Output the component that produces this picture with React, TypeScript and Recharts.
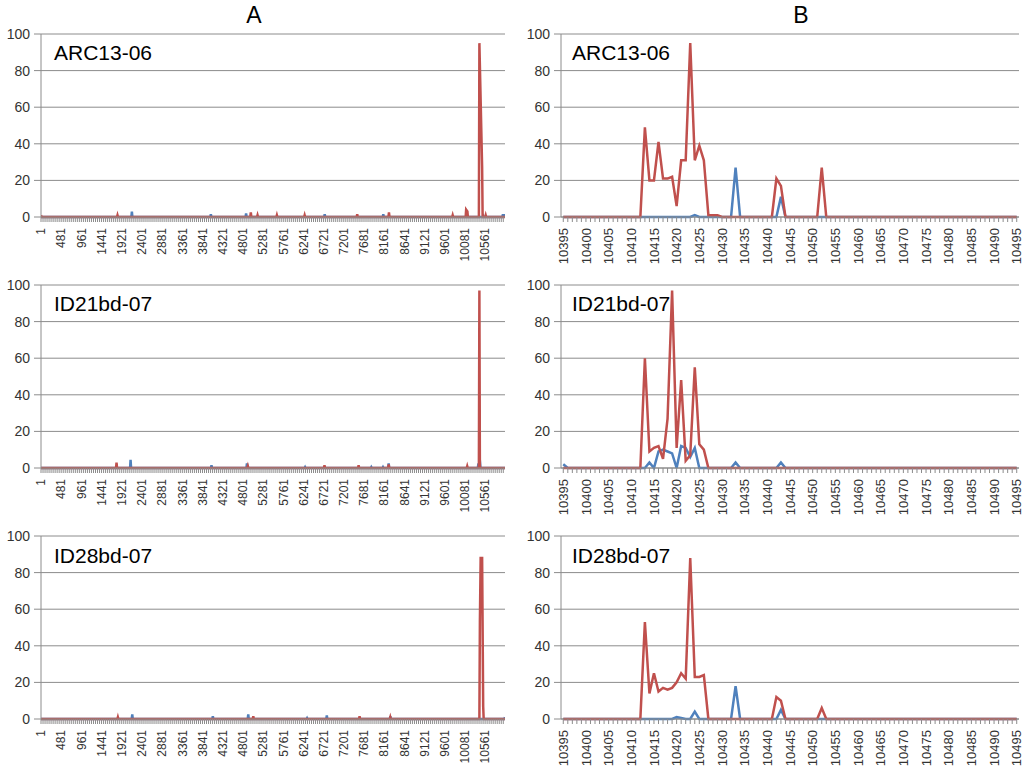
import React from "react"
import { LineChart, Line, XAxis, YAxis, CartesianGrid } from "recharts"

const FONT = '"Liberation Sans", Arial, sans-serif'
const RED = "#C0504D"
const BLUE = "#4F81BD"
const GRID = "#8c8c8c"
const TEXT = "#333333"

type Pt = [number, number]

// panel names, one per row
const SAMPLES = ["ARC13-06", "ID21bd-07", "ID28bd-07"]

// A: whole sequence, 1 .. A_END
const A_END = 11034
const A_LABELS = [
  1, 481, 961, 1441, 1921, 2401, 2881, 3361, 3841, 4321, 4801, 5281, 5761, 6241, 6721, 7201,
  7681, 8161, 8641, 9121, 9601, 10081, 10561,
]
const A_TICK_STEP = 48

// nonzero peaks [position, value]; everything else is 0
const A_RED: Pt[][] = [
  [[1, 1], [1820, 1], [4990, 2.5], [5150, 1], [5610, 1], [6270, 1], [7520, 1.5], [8275, 2.5],
    [9790, 1], [10110, 4], [10140, 3], [10425, 95], [10490, 27], [10575, 1]],
  [[1797, 3], [4920, 1], [6742, 1.5], [7553, 1.5], [8268, 2], [10136, 1], [10425, 97]],
  [[1829, 1], [5049, 1.5], [7576, 1.5], [8307, 1], [10437, 53], [10455, 88], [10490, 88],
    [10515, 7]],
]
const A_BLUE: Pt[][] = [
  [[2162, 3], [4040, 1.5], [4878, 2], [6747, 1.5], [8140, 1.5], [10520, 0.5], [10980, 1],
    [11034, 1]],
  [[2131, 4.5], [4055, 1.5], [4898, 2.5], [6281, 0.5], [7855, 0.5], [8133, 0.5], [8268, 2.5],
    [10400, 2], [10440, 3]],
  [[2171, 2.5], [4087, 1.5], [4929, 2.5], [6328, 0.5], [6797, 2], [8307, 1.5], [11034, 1]],
]

// B: zoom on 10395 .. 10495
const B_START = 10395
const B_END = 10495
const B_LABELS = [
  10395, 10400, 10405, 10410, 10415, 10420, 10425, 10430, 10435, 10440, 10445, 10450, 10455,
  10460, 10465, 10470, 10475, 10480, 10485, 10490, 10495,
]
const B_RED: Pt[][] = [
  [[10413, 49], [10414, 20], [10415, 20], [10416, 41], [10417, 21], [10418, 21], [10419, 22],
    [10420, 6], [10421, 31], [10422, 31], [10423, 95], [10424, 31], [10425, 39], [10426, 31],
    [10427, 1], [10428, 1], [10429, 1], [10442, 21], [10443, 17], [10452, 27]],
  [[10413, 60], [10414, 9], [10415, 11], [10416, 12], [10417, 5], [10418, 27], [10419, 97],
    [10420, 11], [10421, 48], [10422, 4], [10423, 7], [10424, 55], [10425, 13], [10426, 10]],
  [[10413, 53], [10414, 14], [10415, 25], [10416, 15], [10417, 17], [10418, 16], [10419, 17],
    [10420, 20], [10421, 25], [10422, 22], [10423, 88], [10424, 23], [10425, 23], [10426, 24],
    [10442, 12], [10443, 10], [10452, 6]],
]
const B_BLUE: Pt[][] = [
  [[10424, 1], [10433, 27], [10443, 11]],
  [[10395, 2], [10414, 3], [10416, 9], [10417, 10], [10418, 9], [10419, 8], [10421, 12],
    [10422, 11], [10423, 6], [10424, 11], [10433, 3], [10443, 3]],
  [[10420, 1], [10421, 0.5], [10424, 4], [10433, 18], [10443, 5]],
]

const Y_TICKS = [0, 20, 40, 60, 80, 100]

type Row = { pos: number; red?: number; blue?: number }

const SPIKE_HALF = 12
const JOIN_GAP = 80

// peaks -> polyline with zero baseline around isolated spikes
function spikeLine(peaks: Pt[], end: number): Pt[] {
  const pts: Pt[] = []
  peaks.forEach(([p, v], i) => {
    const prev = peaks[i - 1]
    const next = peaks[i + 1]
    if ((!prev || p - prev[0] > JOIN_GAP) && p - SPIKE_HALF > 1) pts.push([p - SPIKE_HALF, 0])
    pts.push([p, v])
    if ((!next || next[0] - p > JOIN_GAP) && p + SPIKE_HALF < end) pts.push([p + SPIKE_HALF, 0])
  })
  if (!pts.length || pts[0][0] > 1) pts.unshift([1, 0])
  if (pts[pts.length - 1][0] < end) pts.push([end, 0])
  return pts
}

function buildA(red: Pt[], blue: Pt[]): Row[] {
  const map = new Map<number, Row>()
  const put = (pts: Pt[], key: "red" | "blue") =>
    pts.forEach(([p, v]) => {
      const row = map.get(p) ?? { pos: p }
      row[key] = v
      map.set(p, row)
    })
  put(spikeLine(blue, A_END), "blue")
  put(spikeLine(red, A_END), "red")
  return [...map.values()].sort((a, b) => a.pos - b.pos)
}

function buildB(red: Pt[], blue: Pt[]): Row[] {
  const r = new Map(red)
  const b = new Map(blue)
  const rows: Row[] = []
  for (let p = B_START; p <= B_END; p++) {
    rows.push({ pos: p, red: r.get(p) ?? 0, blue: b.get(p) ?? 0 })
  }
  return rows
}

const A_TICKS: number[] = []
for (let t = 1; t <= A_END; t += A_TICK_STEP) A_TICKS.push(t)
const B_TICKS: number[] = []
for (let t = B_START; t <= B_END; t++) B_TICKS.push(t)

function RotatedTick(props: any) {
  const { x, y, payload, labels, fontSize } = props
  if (!labels.includes(payload.value)) return <g />
  return (
    <text
      x={x}
      y={y}
      dy="0.36em"
      transform={`rotate(-90, ${x}, ${y})`}
      textAnchor="end"
      fill={TEXT}
      fontSize={fontSize}
      fontFamily={FONT}
    >
      {payload.value}
    </text>
  )
}

const PLOT_TOPS = [33.5, 284.7, 536.2]
const TOP_PAD = 8
const PLOT_H = 183
const X_AXIS_H = 52

type PanelProps = {
  data: Row[]
  left: number
  top: number
  width: number
  rightPad: number
  domain: [number, number]
  ticks: number[]
  labels: number[]
  labelSize: number
}

function Panel({ data, left, top, width, rightPad, domain, ticks, labels, labelSize }: PanelProps) {
  return (
    <div style={{ position: "absolute", left, top: top - TOP_PAD }}>
      <LineChart
        width={width}
        height={TOP_PAD + PLOT_H + X_AXIS_H}
        data={data}
        margin={{ top: TOP_PAD, right: rightPad, bottom: 0, left: 0 }}
      >
        <CartesianGrid vertical={false} stroke={GRID} strokeWidth={1} />
        <XAxis
          dataKey="pos"
          type="number"
          domain={domain}
          ticks={ticks}
          interval={0}
          height={X_AXIS_H}
          tickSize={5}
          tickMargin={6}
          stroke={GRID}
          allowDataOverflow
          tick={(p: any) => <RotatedTick {...p} labels={labels} fontSize={labelSize} />}
        />
        <YAxis
          domain={[0, 100]}
          ticks={Y_TICKS}
          width={41}
          tickSize={7}
          tickMargin={4}
          stroke={GRID}
          tick={{ fill: TEXT, fontSize: 14, fontFamily: FONT }}
        />
        <Line
          dataKey="blue"
          stroke={BLUE}
          strokeWidth={2.5}
          dot={false}
          connectNulls
          isAnimationActive={false}
        />
        <Line
          dataKey="red"
          stroke={RED}
          strokeWidth={2.5}
          dot={false}
          connectNulls
          isAnimationActive={false}
        />
      </LineChart>
    </div>
  )
}

export default function App() {
  return (
    <div
      style={{
        position: "absolute",
        left: 0,
        top: 0,
        width: 1024,
        height: 772,
        background: "#fff",
        fontFamily: FONT,
        overflow: "hidden",
      }}
    >
      {SAMPLES.map((name, i) => (
        <React.Fragment key={name}>
          <Panel
            data={buildA(A_RED[i], A_BLUE[i])}
            left={0}
            top={PLOT_TOPS[i]}
            width={520}
            rightPad={15}
            domain={[1, A_END]}
            ticks={A_TICKS}
            labels={A_LABELS}
            labelSize={12}
          />
          <Panel
            data={buildB(B_RED[i], B_BLUE[i])}
            left={520}
            top={PLOT_TOPS[i]}
            width={504}
            rightPad={5}
            domain={[B_START - 0.5, B_END + 0.5]}
            ticks={B_TICKS}
            labels={B_LABELS}
            labelSize={13}
          />
        </React.Fragment>
      ))}
      <svg
        width={1024}
        height={772}
        style={{ position: "absolute", left: 0, top: 0, pointerEvents: "none" }}
      >
        <text x={254} y={23} textAnchor="middle" fontSize={23} fontFamily={FONT} fill="#000">
          A
        </text>
        <text x={801} y={23} textAnchor="middle" fontSize={23} fontFamily={FONT} fill="#000">
          B
        </text>
        {SAMPLES.map((name, i) => (
          <React.Fragment key={name}>
            <text x={54} y={PLOT_TOPS[i] + 26.5} fontSize={21} fontFamily={FONT} fill="#000">
              {name}
            </text>
            <text x={572} y={PLOT_TOPS[i] + 26.5} fontSize={21} fontFamily={FONT} fill="#000">
              {name}
            </text>
          </React.Fragment>
        ))}
      </svg>
    </div>
  )
}
